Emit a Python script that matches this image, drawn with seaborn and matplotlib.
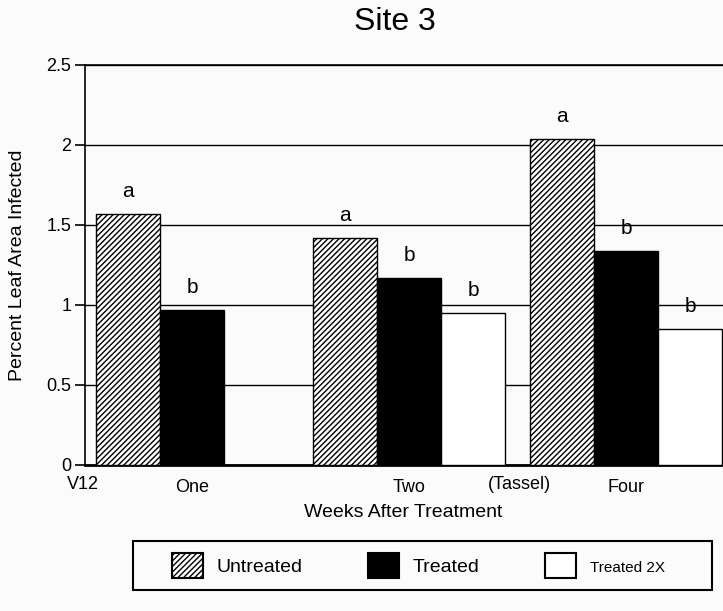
import numpy as np
import pandas as pd
import seaborn as sns
import matplotlib.pyplot as plt
from matplotlib.patches import Patch, Rectangle

# Data
weeks = ['One', 'Two', 'Four']
treatments = ['Untreated', 'Treated', 'Treated 2X']
untreated = [1.57, 1.42, 2.04]
treated = [0.97, 1.17, 1.34]
treated_2x = [np.nan, 0.95, 0.85]   # no Treated 2X bar at week one
letters = {
    'Untreated': ['a', 'a', 'a'],
    'Treated': ['b', 'b', 'b'],
    'Treated 2X': ['', 'b', 'b'],
}
y_ticks = [0, 0.5, 1, 1.5, 2, 2.5]
y_tick_labels = ['0', '0.5', '1', '1.5', '2', '2.5']

# Long table for seaborn
rows = []
for name, vals in zip(treatments, [untreated, treated, treated_2x]):
    for w, v in zip(weeks, vals):
        rows.append({'Week': w, 'Treatment': name, 'Value': v})
df = pd.DataFrame(rows)

sns.set_theme(style='white')
plt.rcParams['font.family'] = ['Liberation Sans', 'DejaVu Sans']
plt.rcParams['hatch.linewidth'] = 1.0
plt.rcParams['hatch.color'] = 'black'
for key in ['text.color', 'axes.labelcolor', 'xtick.color', 'ytick.color']:
    plt.rcParams[key] = 'black'

bg = '#fbfbfb'
fig = plt.figure(figsize=(7.23, 6.11), dpi=100, facecolor=bg)
ax = fig.add_axes([0.1176, 0.2390, 0.8824, 0.6547], facecolor=bg)

sns.barplot(data=df, x='Week', y='Value', hue='Treatment',
            order=weeks, hue_order=treatments,
            palette=['white', 'black', 'white'],
            edgecolor='black', linewidth=1, width=0.885,
            saturation=1, errorbar=None, legend=False, ax=ax, zorder=3)

# hatch the untreated bars
for bar in ax.containers[0]:
    bar.set_hatch('//////')

# significance letters above each bar
for name, cont in zip(treatments, ax.containers):
    for bar in cont:
        h = bar.get_height()
        if np.isnan(h):
            continue
        cx = bar.get_x() + bar.get_width() / 2
        idx = int(round(cx))
        ax.annotate(letters[name][idx], (cx, h), xytext=(0, 16),
                    textcoords='offset points', ha='center', va='center',
                    fontsize=15, zorder=5)

ax.set_xlim(-0.493, 2.447)
ax.set_ylim(0, 2.5)
ax.set_yticks(y_ticks, labels=y_tick_labels)
ax.yaxis.grid(True, color='black', linewidth=1)
ax.set_axisbelow(True)

for s in ['left', 'top']:
    ax.spines[s].set_color('black')
    ax.spines[s].set_linewidth(1.2)
ax.spines['bottom'].set_color('black')
ax.spines['bottom'].set_linewidth(2)
ax.spines['right'].set_visible(False)

ax.tick_params(axis='y', length=7, width=1.2, color='black', labelsize=13,
               left=True, pad=3)
ax.tick_params(axis='x', length=0, labelsize=13, pad=10)

# extra stage labels on the x axis
ax.text(-0.502, -0.05, 'V12', transform=ax.get_xaxis_transform(),
        ha='center', va='center', fontsize=13)
ax.text(1.507, -0.05, '(Tassel)', transform=ax.get_xaxis_transform(),
        ha='center', va='center', fontsize=13)

ax.set_xlabel('Weeks After Treatment', fontsize=14)
ax.set_ylabel('Percent Leaf Area Infected', fontsize=14)
ax.xaxis.set_label_coords(0.498, -0.097)
ax.yaxis.set_label_coords(-0.093, 0.5)

fig.text(0.546, 1 - 30 / 611, 'Site 3', ha='center', va='baseline', fontsize=23)

# Legend
handles = [
    Patch(facecolor='white', edgecolor='black', hatch='//////', linewidth=1.5),
    Patch(facecolor='black', edgecolor='black', linewidth=1.5),
    Patch(facecolor='white', edgecolor='black', linewidth=1.5),
]
leg = fig.legend(handles, treatments, loc='center left',
                 bbox_to_anchor=(172 / 723, 1 - 565.5 / 611),
                 ncol=3, frameon=False, fontsize=14, borderpad=0,
                 borderaxespad=0, handlelength=1.6, handleheight=1.6,
                 handletextpad=0.67, columnspacing=3.4)
leg.get_texts()[2].set_fontsize(11)
fig.add_artist(Rectangle((133 / 723, 1 - 590 / 611), (712 - 133) / 723, 49 / 611,
                         transform=fig.transFigure, fill=False,
                         edgecolor='black', linewidth=1.5))

plt.savefig('out.png', dpi=100, facecolor=bg)
